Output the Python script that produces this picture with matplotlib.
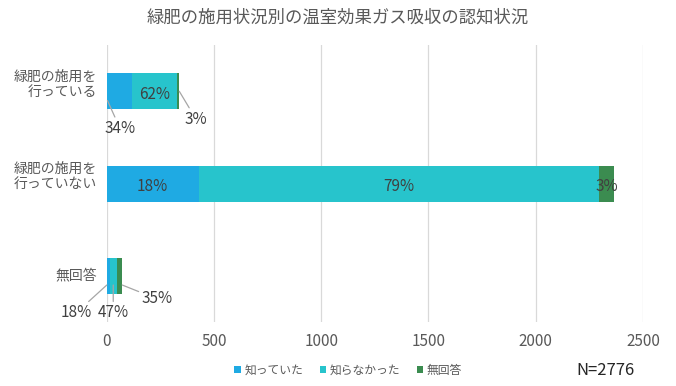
import numpy as np
import matplotlib.pyplot as plt
import matplotlib.transforms as mtrans

plt.rcParams['font.family'] = ['Noto Sans CJK JP', 'DejaVu Sans']

# データ (人数)
categories = ['緑肥の施用を\n行っている', '緑肥の施用を\n行っていない', '無回答']
series = ['知っていた', '知らなかった', '無回答']
knew = [116, 428, 13]
not_knew = [211, 1868, 34]
no_answer = [11, 70, 25]
n_total = 2776
title = '緑肥の施用状況別の温室効果ガス吸収の認知状況'

colors = ['#1FAAE3', '#27C4CC', '#3B8C50']
gray = '#595959'
linecol = '#A6A6A6'

vals = np.array([knew, not_knew, no_answer], dtype=float)
totals = vals.sum(axis=0)
pct = np.round(vals / totals * 100).astype(int)

fig = plt.figure(figsize=(6.76, 3.86), dpi=100)
ax = fig.add_axes([0.158, 0.166, 0.793, 0.717])

y = np.arange(len(categories))
h = 0.39
left = np.zeros(len(categories))
bars = []
for i, s in enumerate(series):
    b = ax.barh(y, vals[i], left=left, height=h, color=colors[i], label=s, zorder=3)
    bars.append(left.copy())
    left += vals[i]

ax.set_xlim(0, 2500)
ax.set_ylim(2.5, -0.5)
ax.set_xticks(np.arange(0, 2501, 500))
ax.set_yticks(y)
ax.set_yticklabels([])
# カテゴリ名 (2行のものは少し上にずらす, Excel風)
for yy, c in zip(y, categories):
    dy = 7 / 100 if '\n' in c else 0
    tr = ax.get_yaxis_transform() + mtrans.ScaledTranslation(-0.1, dy, fig.dpi_scale_trans)
    ax.text(0, yy, c, transform=tr, ha='right', va='center', fontsize=10,
            color=gray, linespacing=1.15, multialignment='right')
ax.tick_params(axis='x', labelsize=11, colors=gray, length=0, pad=8)
ax.tick_params(axis='y', length=0)
ax.grid(axis='x', color='#D9D9D9', lw=0.9, zorder=0)
for sp in ax.spines.values():
    sp.set_visible(False)

# 棒の中のラベル
def inside(i, j):
    x = bars[i][j] + vals[i][j] / 2
    ax.text(x, y[j] + 0.03, '%d%%' % pct[i][j], ha='center', va='center',
            fontsize=11, color='#404040', zorder=4)

inside(1, 0)
inside(0, 1)
inside(1, 1)
inside(2, 1)

# 引き出し線付きラベル
def outside(i, j, xy, off):
    ax.annotate('%d%%' % pct[i][j], xy=xy, xytext=off, textcoords='offset points',
                ha='center', va='center', fontsize=11, color='#404040',
                arrowprops=dict(arrowstyle='-', color=linecol, lw=0.9,
                                shrinkA=0, shrinkB=0), zorder=4)

outside(0, 0, (bars[0][0] + 3, y[0] + 0.1), (9, -20))
outside(2, 0, (left[0], y[0]), (12, -20))
outside(0, 2, (bars[0][2], y[2] + 0.1), (-22, -20))
outside(1, 2, (bars[1][2] + vals[1][2] / 2, y[2] + 0.1), (0, -20))
outside(2, 2, (left[2], y[2] + 0.1), (25, -10))

fig.text(0.5, 0.955, title, ha='center', va='center', fontsize=12.5, color=gray)

leg = fig.legend(loc='center', bbox_to_anchor=(0.515, 0.04), ncol=3, frameon=False,
                 fontsize=8.5, handlelength=0.55, handleheight=0.55, handletextpad=0.3,
                 columnspacing=1.4)
for t in leg.get_texts():
    t.set_color(gray)

fig.text(0.895, 0.04, 'N=%d' % n_total, ha='center', va='center', fontsize=12, color='#262626')

fig.savefig('out.png', dpi=100)
